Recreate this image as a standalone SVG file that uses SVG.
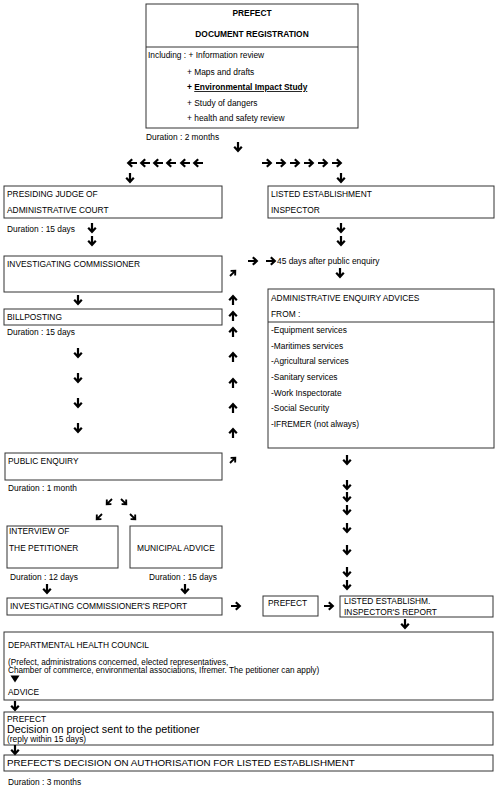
<svg xmlns="http://www.w3.org/2000/svg" xmlns:xlink="http://www.w3.org/1999/xlink" width="500" height="798" viewBox="0 0 500 798">
<style>
.box{fill:#fff;stroke:#333;stroke-width:1}
.t{font-family:"Liberation Sans",Arial,sans-serif;font-size:8.4px;fill:#000}
.b{font-weight:bold}
.big{font-size:9.8px}
.dec{font-size:10.8px}
.sm{font-size:8.2px}
.u{text-decoration:underline}
</style>
<defs>
<path id="a" d="M0,-5 V3.2 M-3.8,-0.2 L0,3.8 L3.8,-0.2" fill="none" stroke="#000" stroke-width="2.2"/>
</defs>
<rect width="500" height="798" fill="#fff"/>

<g id="prefect-registration">
<rect class="box" x="146" y="4" width="212" height="124"/>
<line x1="146" y1="47" x2="358" y2="47" stroke="#333"/>
<text class="t b" x="252" y="16" text-anchor="middle">PREFECT</text>
<text class="t b" x="252" y="37" text-anchor="middle">DOCUMENT REGISTRATION</text>
<text class="t" x="148" y="58">Including : + Information review</text>
<text class="t" x="187" y="75">+ Maps and drafts</text>
<text class="t b" x="187" y="90">+ <tspan class="u">Environmental Impact Study</tspan></text>
<text class="t" x="187" y="106">+ Study of dangers</text>
<text class="t" x="187" y="121">+ health and safety review</text>
<text class="t" x="146" y="140">Duration : 2 months</text>
</g>

<g id="presiding-judge">
<rect class="box" x="4" y="186" width="218" height="32"/>
<text class="t" x="7" y="197">PRESIDING JUDGE OF</text>
<text class="t" x="7" y="213">ADMINISTRATIVE COURT</text>
<text class="t" x="7" y="232">Duration : 15 days</text>
</g>

<g id="listed-inspector">
<rect class="box" x="268" y="186" width="226" height="32"/>
<text class="t" x="271" y="197">LISTED ESTABLISHMENT</text>
<text class="t" x="271" y="213">INSPECTOR</text>
</g>

<g id="investigating-commissioner">
<rect class="box" x="4" y="256" width="218" height="36"/>
<text class="t" x="7" y="267">INVESTIGATING COMMISSIONER</text>
</g>

<g id="delay-45">
<text class="t" x="277" y="264">45 days after public enquiry</text>
</g>

<g id="billposting">
<rect class="box" x="4" y="309" width="218" height="16"/>
<text class="t" x="7" y="320">BILLPOSTING</text>
<text class="t" x="7" y="335">Duration : 15 days</text>
</g>

<g id="administrative-enquiry">
<rect class="box" x="268" y="289" width="226" height="159"/>
<line x1="268" y1="322" x2="494" y2="322" stroke="#333"/>
<text class="t" x="271" y="301">ADMINISTRATIVE ENQUIRY  ADVICES</text>
<text class="t" x="271" y="317">FROM :</text>
<text class="t" x="271" y="333">-Equipment services</text>
<text class="t" x="271" y="349">-Maritimes services</text>
<text class="t" x="271" y="364">-Agricultural services</text>
<text class="t" x="271" y="380">-Sanitary services</text>
<text class="t" x="271" y="396">-Work Inspectorate</text>
<text class="t" x="271" y="411">-Social Security</text>
<text class="t" x="271" y="427">-IFREMER (not always)</text>
</g>

<g id="public-enquiry">
<rect class="box" x="5" y="453" width="217" height="27"/>
<text class="t" x="8" y="464">PUBLIC ENQUIRY</text>
<text class="t" x="8" y="491">Duration : 1 month</text>
</g>

<g id="interview">
<rect class="box" x="7" y="526" width="111" height="42"/>
<text class="t" x="9" y="534">INTERVIEW OF</text>
<text class="t" x="9" y="551">THE PETITIONER</text>
<text class="t" x="10" y="580">Duration :  12 days</text>
</g>

<g id="municipal-advice">
<rect class="box" x="130" y="526" width="92" height="42"/>
<text class="t" x="137" y="551">MUNICIPAL ADVICE</text>
<text class="t" x="149" y="580">Duration : 15 days</text>
</g>

<g id="commissioner-report">
<rect class="box" x="7" y="598" width="215" height="17"/>
<text class="t" x="10" y="609">INVESTIGATING COMMISSIONER'S REPORT</text>
</g>

<g id="prefect-mid">
<rect class="box" x="263" y="596" width="55" height="20"/>
<text class="t" x="268" y="606">PREFECT</text>
</g>

<g id="inspector-report">
<rect class="box" x="340" y="596" width="153" height="21"/>
<text class="t" x="344" y="604">LISTED ESTABLISHM.</text>
<text class="t" x="344" y="615">INSPECTOR'S REPORT</text>
</g>

<g id="health-council">
<rect class="box" x="4" y="632" width="489" height="68"/>
<text class="t" x="8" y="648">DEPARTMENTAL HEALTH COUNCIL</text>
<text class="t sm" x="8" y="665">(Prefect, administrations concerned, elected representatives,</text>
<text class="t sm" x="8" y="673">Chamber of commerce, environmental associations, Ifremer. The petitioner can apply)</text>
<polygon points="10.5,675.5 19.5,675.5 15,682.5" fill="#000"/>
<text class="t" x="8" y="695">ADVICE</text>
</g>

<g id="prefect-decision-project">
<rect class="box" x="4" y="712" width="489" height="33"/>
<text class="t" x="7" y="722">PREFECT</text>
<text class="t dec" x="7" y="733">Decision on project sent to the petitioner</text>
<text class="t" x="7" y="742">(reply within 15 days)</text>
</g>

<g id="prefect-final-decision">
<rect class="box" x="4" y="755" width="489" height="16"/>
<text class="t big" x="7" y="766">PREFECT'S DECISION ON AUTHORISATION FOR LISTED ESTABLISHMENT</text>
<text class="t" x="8" y="785">Duration : 3 months</text>
</g>

<g id="connectors">
<use xlink:href="#a" transform="translate(238,147)"/>
<use xlink:href="#a" transform="translate(132,163) rotate(90)"/>
<use xlink:href="#a" transform="translate(145,163) rotate(90)"/>
<use xlink:href="#a" transform="translate(158,163) rotate(90)"/>
<use xlink:href="#a" transform="translate(171,163) rotate(90)"/>
<use xlink:href="#a" transform="translate(185,163) rotate(90)"/>
<use xlink:href="#a" transform="translate(198,163) rotate(90)"/>
<use xlink:href="#a" transform="translate(267,163) rotate(-90)"/>
<use xlink:href="#a" transform="translate(281,163) rotate(-90)"/>
<use xlink:href="#a" transform="translate(295,163) rotate(-90)"/>
<use xlink:href="#a" transform="translate(309,163) rotate(-90)"/>
<use xlink:href="#a" transform="translate(323,163) rotate(-90)"/>
<use xlink:href="#a" transform="translate(337,163) rotate(-90)"/>
<use xlink:href="#a" transform="translate(130,178)"/>
<use xlink:href="#a" transform="translate(341,178)"/>
<use xlink:href="#a" transform="translate(92,228)"/>
<use xlink:href="#a" transform="translate(92,241)"/>
<use xlink:href="#a" transform="translate(341,228)"/>
<use xlink:href="#a" transform="translate(341,241)"/>
<use xlink:href="#a" transform="translate(253,261) rotate(-90)"/>
<use xlink:href="#a" transform="translate(271,261) rotate(-90)"/>
<use xlink:href="#a" transform="translate(340,273)"/>
<use xlink:href="#a" transform="translate(233,273) rotate(-135) scale(0.85)"/>
<use xlink:href="#a" transform="translate(78,300)"/>
<use xlink:href="#a" transform="translate(233,300) rotate(180)"/>
<use xlink:href="#a" transform="translate(233,316) rotate(180)"/>
<use xlink:href="#a" transform="translate(233,332) rotate(180)"/>
<use xlink:href="#a" transform="translate(233,357) rotate(180)"/>
<use xlink:href="#a" transform="translate(233,383) rotate(180)"/>
<use xlink:href="#a" transform="translate(233,408) rotate(180)"/>
<use xlink:href="#a" transform="translate(233,433) rotate(180)"/>
<use xlink:href="#a" transform="translate(78,353)"/>
<use xlink:href="#a" transform="translate(78,378)"/>
<use xlink:href="#a" transform="translate(78,403)"/>
<use xlink:href="#a" transform="translate(78,428)"/>
<use xlink:href="#a" transform="translate(233,460) rotate(-135) scale(0.85)"/>
<use xlink:href="#a" transform="translate(347,460)"/>
<use xlink:href="#a" transform="translate(347,485)"/>
<use xlink:href="#a" transform="translate(347,497)"/>
<use xlink:href="#a" transform="translate(347,510)"/>
<use xlink:href="#a" transform="translate(347,528)"/>
<use xlink:href="#a" transform="translate(347,550)"/>
<use xlink:href="#a" transform="translate(347,572)"/>
<use xlink:href="#a" transform="translate(347,585)"/>
<use xlink:href="#a" transform="translate(109,502) rotate(45) scale(0.85)"/>
<use xlink:href="#a" transform="translate(124,502) rotate(-45) scale(0.85)"/>
<use xlink:href="#a" transform="translate(99,517) rotate(45) scale(0.85)"/>
<use xlink:href="#a" transform="translate(133,517) rotate(-45) scale(0.85)"/>
<use xlink:href="#a" transform="translate(47,589)"/>
<use xlink:href="#a" transform="translate(185,589)"/>
<use xlink:href="#a" transform="translate(236,606) rotate(-90)"/>
<use xlink:href="#a" transform="translate(329,606) rotate(-90)"/>
<use xlink:href="#a" transform="translate(405,624)"/>
<use xlink:href="#a" transform="translate(15,706)"/>
<use xlink:href="#a" transform="translate(15,750)"/>
</g>
</svg>
